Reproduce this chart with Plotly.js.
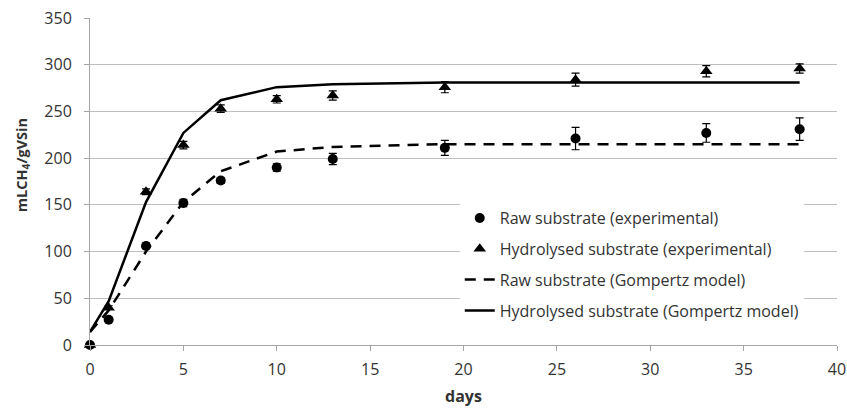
<!DOCTYPE html>
<html>
<head>
<meta charset="utf-8">
<script src="https://cdn.plot.ly/plotly-3.0.1.min.js"></script>
<style>body{margin:0;padding:0;background:#fff;}#chart{width:847px;height:410px;}</style>
</head>
<body>
<div id="chart"></div>
<script>
const days = [0, 1, 3, 5, 7, 10, 13, 19, 26, 33, 38];
const rawExp = [0, 27, 106, 152, 176, 190, 199, 211, 221, 227, 231];
const rawErr = [0, 2, 3, 4, 3, 4, 6, 8, 12, 10, 12];
const hydExp = [0, 40, 164, 214, 253, 263, 267, 276, 284, 293, 296];
const hydErr = [0, 2, 3, 4, 4, 4, 5, 6, 7, 6, 5];
const rawModel = [14, 37, 100, 153, 186, 207, 212, 215, 215, 215, 215];
const hydModel = [14, 47, 153, 227, 262, 276, 279, 281, 281, 281, 281];
const xTicks = [0, 5, 10, 15, 20, 25, 30, 35, 40];
const yTicks = [0, 50, 100, 150, 200, 250, 300, 350];
const yTitle = '<b>mLCH<sub>4</sub>/gVSin</b>';
const xTitle = '<b>days</b>';

const FONT = 'Open Sans, Liberation Sans, sans-serif';
const TXT = '#333';

const traces = [
  {x: days, y: rawExp, type: 'scatter', mode: 'markers', name: 'Raw substrate (experimental)',
   legendgroup: 'a', cliponaxis: false,
   marker: {symbol: 'circle', size: 10, color: '#000'},
   error_y: {type: 'data', array: rawErr, visible: true, color: '#000', thickness: 1.2, width: 4}},
  {x: days, y: hydExp, type: 'scatter', mode: 'markers', name: 'Hydrolysed substrate (experimental)',
   legendgroup: 'b', cliponaxis: false,
   marker: {symbol: 'triangle-up', size: 11, color: '#000'},
   error_y: {type: 'data', array: hydErr, visible: true, color: '#000', thickness: 1.2, width: 4}},
  {x: days, y: rawModel, type: 'scatter', mode: 'lines', name: 'Raw substrate (Gompertz model)',
   legendgroup: 'c', line: {color: '#000', width: 2.5, dash: '11px,8px'}},
  {x: days, y: hydModel, type: 'scatter', mode: 'lines', name: 'Hydrolysed substrate (Gompertz model)',
   legendgroup: 'd', line: {color: '#000', width: 2.5}}
];

const layout = {
  width: 847, height: 410,
  margin: {l: 90, r: 10, t: 18, b: 65},
  paper_bgcolor: '#fff', plot_bgcolor: '#fff',
  font: {family: FONT, size: 16, color: TXT},
  showlegend: true,
  legend: {x: 0.495, y: 0.44, xanchor: 'left', yanchor: 'top', bgcolor: '#fff',
           borderwidth: 0, traceorder: 'grouped', tracegroupgap: 7,
           font: {family: FONT, size: 16, color: TXT}},
  xaxis: {range: [0, 40], tickvals: xTicks, ticks: 'outside', ticklen: 5, tickcolor: '#a6a6a6',
          ticklabelstandoff: 5,
          showgrid: false, showline: true, linecolor: '#a6a6a6', linewidth: 1, zeroline: false,
          tickfont: {family: FONT, size: 16, color: TXT},
          title: {text: xTitle, font: {family: FONT, size: 16, color: TXT}, standoff: 11}},
  yaxis: {range: [0, 350], tickvals: yTicks, ticks: 'outside', ticklen: 5, tickcolor: '#a6a6a6',
          ticklabelstandoff: 9,
          showgrid: true, gridcolor: '#bfbfbf', gridwidth: 1, showline: true, linecolor: '#a6a6a6',
          linewidth: 1, zeroline: false,
          tickfont: {family: FONT, size: 16, color: TXT}},
  annotations: [
    {text: yTitle, xref: 'paper', yref: 'paper', x: -0.091, y: 0.55, xanchor: 'center', yanchor: 'middle',
     textangle: -90, showarrow: false, font: {family: FONT, size: 14.5, color: TXT}}
  ]
};

Plotly.newPlot('chart', traces, layout, {displayModeBar: false, staticPlot: true});
</script>
</body>
</html>
